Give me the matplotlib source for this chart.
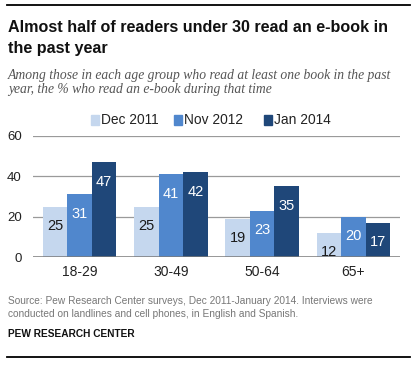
import matplotlib.pyplot as plt
import numpy as np

AGE_GROUPS = ["18-29", "30-49", "50-64", "65+"]
SERIES = ["Dec 2011", "Nov 2012", "Jan 2014"]
DEC_2011 = [25, 25, 19, 12]
NOV_2012 = [31, 41, 23, 20]
JAN_2014 = [47, 42, 35, 17]
Y_TICKS = [0, 20, 40, 60]

COLORS = ["#c5d7ee", "#5087cd", "#1f4779"]
LABEL_COLORS = ["#1a1a1a", "white", "white"]

W, H = 415, 368


def main() -> None:
    fig = plt.figure(figsize=(W / 100, H / 100), dpi=100)
    fig.patch.set_facecolor("white")

    # plot area in pixel coords: x 33..400, y 136 (60) .. 257 (0)
    ax = fig.add_axes([33 / W, 1 - 257 / H, (400 - 33) / W, (257 - 136) / H])
    values = [DEC_2011, NOV_2012, JAN_2014]
    x = np.arange(len(AGE_GROUPS))
    width = 0.268
    for i, vals in enumerate(values):
        pos = x + (i - 1) * width
        ax.bar(pos, vals, width=width, color=COLORS[i], zorder=3, linewidth=0)
        for px, v in zip(pos, vals):
            ax.annotate(f"{v}", (px, v), xytext=(0, -14), textcoords="offset points",
                        ha="center", va="center", fontsize=10.5,
                        color=LABEL_COLORS[i], zorder=4, family="Liberation Sans")

    ax.set_xlim(-0.51, 3.51)
    ax.set_ylim(0, 60)
    ax.set_yticks(Y_TICKS)
    ax.set_yticklabels([str(t) for t in Y_TICKS], fontsize=9.5, color="#222222",
                       family="Liberation Sans")
    ax.set_xticks(x)
    ax.set_xticklabels(AGE_GROUPS, fontsize=10, color="#222222", family="Liberation Sans")
    ax.tick_params(axis="both", length=0)
    ax.tick_params(axis="y", pad=8)
    ax.tick_params(axis="x", pad=6)
    for t in Y_TICKS[1:]:
        ax.axhline(t, color="#9a9a9a", lw=0.9, zorder=1)
    ax.axhline(0, color="#7a7a7a", lw=1.1, zorder=5)
    for s in ax.spines.values():
        s.set_visible(False)
    ax.set_facecolor("white")

    # legend
    leg_y = 1 - 120 / H
    for i, (name, xs) in enumerate(zip(SERIES, [91, 174, 264])):
        fig.patches.append(plt.Rectangle((xs / W, leg_y - 4.5 / H), 8 / W, 9 / H,
                                         transform=fig.transFigure, color=COLORS[i]))
        fig.text((xs + 10) / W, leg_y, name, ha="left", va="center", fontsize=9.9,
                 color="#222222", family="Liberation Sans")

    # rules
    fig.add_artist(plt.Line2D([7 / W, 410 / W], [1 - 5 / H, 1 - 5 / H], color="black", lw=1.3))
    fig.add_artist(plt.Line2D([7 / W, 410 / W], [1 - 357 / H, 1 - 357 / H], color="black", lw=1.3))

    fig.text(8 / W, 1 - 27 / H, "Almost half of readers under 30 read an e-book in",
             ha="left", va="center", fontsize=11.65, fontweight="bold", color="#111111",
             family="Liberation Sans")
    fig.text(8 / W, 1 - 48 / H, "the past year", ha="left", va="center", fontsize=11.65,
             fontweight="bold", color="#111111", family="Liberation Sans")
    fig.text(8 / W, 1 - 76 / H,
             "Among those in each age group who read at least one book in the past",
             ha="left", va="center", fontsize=9.8, style="italic", color="#555555",
             family="Liberation Serif")
    fig.text(8 / W, 1 - 89 / H, "year, the % who read an e-book during that time",
             ha="left", va="center", fontsize=9.8, style="italic", color="#555555",
             family="Liberation Serif")

    fig.text(8 / W, 1 - 301 / H,
             "Source: Pew Research Center surveys, Dec 2011-January 2014. Interviews were",
             ha="left", va="center", fontsize=7.3, color="#777777", family="Liberation Sans")
    fig.text(8 / W, 1 - 314 / H,
             "conducted on landlines and cell phones, in English and Spanish.",
             ha="left", va="center", fontsize=7.3, color="#777777", family="Liberation Sans")
    fig.text(8 / W, 1 - 334 / H, "PEW RESEARCH CENTER", ha="left", va="center",
             fontsize=7.3, fontweight="bold", color="#111111", family="Liberation Sans")

    fig.savefig("out.png", dpi=100)
    plt.close(fig)


if __name__ == "__main__":
    main()
